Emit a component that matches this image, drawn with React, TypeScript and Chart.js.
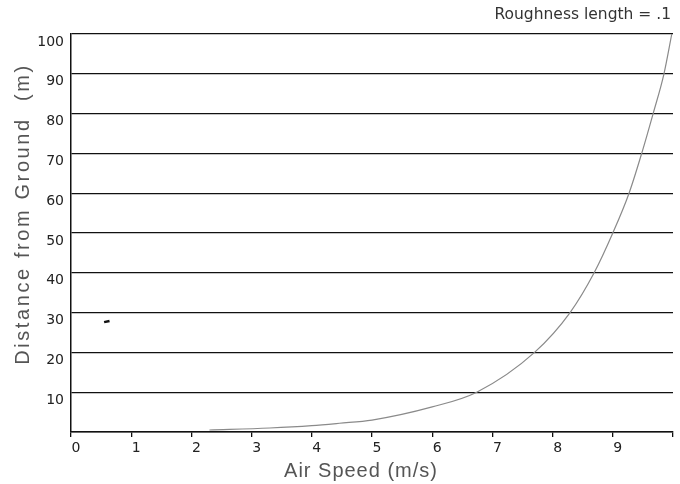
import React, { useEffect, useRef } from "react";
import { Chart, registerables } from "chart.js";

Chart.register(...registerables);

const heights = [0.5, 1, 1.6, 2.2, 3, 6.3, 10, 20, 30, 40, 50, 60, 70, 80, 90, 100];
const speeds = [2.3, 3.3, 4.0, 4.46, 5.0, 6.0, 6.74, 7.7, 8.29, 8.69, 9.0, 9.27, 9.48, 9.67, 9.85, 9.98];
const strayMarkX = [0.55, 0.64];
const strayMarkY = [27.6, 27.9];
const xTicks = [0, 1, 2, 3, 4, 5, 6, 7, 8, 9];
const yTicks = [10, 20, 30, 40, 50, 60, 70, 80, 90, 100];
const noteText = "Roughness length = .1";
const xTitle = "Air Speed (m/s)";
const yTitle = "Distance from Ground  (m)";

const textPlugin = {
  id: "texts",
  afterDraw(chart: any) {
    const ctx = chart.ctx;
    const area = chart.chartArea;
    ctx.save();
    ctx.font = "15.5px 'DejaVu Sans'";
    ctx.fillStyle = "#333";
    ctx.textAlign = "right";
    ctx.textBaseline = "middle";
    ctx.fillText(noteText, 671, 15);

    ctx.fillStyle = "#555";
    ctx.font = "20px 'Liberation Sans'";
    ctx.textAlign = "center";
    (ctx as any).letterSpacing = "1px";
    ctx.fillText(xTitle, (area.left + area.right) / 2 - 11, 471);

    ctx.translate(23, (area.top + area.bottom) / 2 - 19);
    ctx.rotate(-Math.PI / 2);
    ctx.font = "20px 'Liberation Sans'";
    (ctx as any).letterSpacing = "2.6px";
    ctx.fillText(yTitle, 0, 0);
    ctx.restore();
  },
};

export default function App() {
  const ref = useRef<HTMLCanvasElement | null>(null);
  useEffect(() => {
    if (!ref.current) return;
    const chart = new Chart(ref.current, {
      type: "scatter",
      data: {
        datasets: [
          {
            label: "profile",
            data: speeds.map((s, i) => ({ x: s, y: heights[i] })),
            showLine: true,
            borderColor: "#8a8a8a",
            borderWidth: 1.2,
            pointRadius: 0,
            cubicInterpolationMode: "monotone",
          } as any,
          {
            label: "mark",
            data: strayMarkX.map((x, i) => ({ x, y: strayMarkY[i] })),
            showLine: true,
            borderColor: "#111",
            borderWidth: 2.5,
            pointRadius: 0,
          } as any,
        ],
      },
      options: {
        animation: false,
        responsive: false,
        layout: { padding: { top: 34, right: 7, left: 0, bottom: 0 } },
        plugins: { legend: { display: false }, tooltip: { enabled: false }, title: { display: false } },
        scales: {
          x: {
            type: "linear",
            min: 0,
            max: 10,
            afterFit(scale: any) {
              scale.height = 52;
            },
            afterBuildTicks(scale: any) {
              scale.ticks = [...xTicks, 10].map((v) => ({ value: v }));
            },
            ticks: {
              padding: 3,
              labelOffset: 5,
              color: "#222",
              font: { family: "'DejaVu Sans'", size: 14 },
              callback: (v: any) => (xTicks.includes(Number(v)) ? String(v) : ""),
              maxRotation: 0,
              autoSkip: false,
            },
            grid: { drawOnChartArea: false, drawTicks: true, tickLength: 5, color: "#111", lineWidth: 1.3 },
            border: { display: true, color: "#111", width: 1.5 },
            title: { display: false },
          },
          y: {
            type: "linear",
            min: 0,
            max: 100,
            afterFit(scale: any) {
              scale.width = 71;
            },
            afterBuildTicks(scale: any) {
              scale.ticks = [0, ...yTicks].map((v) => ({ value: v }));
            },
            ticks: {
              padding: 7,
              labelOffset: 8,
              color: "#222",
              font: { family: "'DejaVu Sans'", size: 14 },
              callback: (v: any) => (yTicks.includes(Number(v)) ? String(v) : ""),
              autoSkip: false,
            },
            grid: { drawTicks: false, color: "#111", lineWidth: 1.3 },
            border: { display: true, color: "#111", width: 1.5 },
            title: { display: false },
          },
        },
      },
      plugins: [textPlugin],
    });
    return () => chart.destroy();
  }, []);
  return (
    <div style={{ position: "absolute", left: 0, top: 0, width: 680, height: 484, background: "#fff" }}>
      <canvas ref={ref} width={680} height={484} style={{ width: 680, height: 484 }} />
    </div>
  );
}
